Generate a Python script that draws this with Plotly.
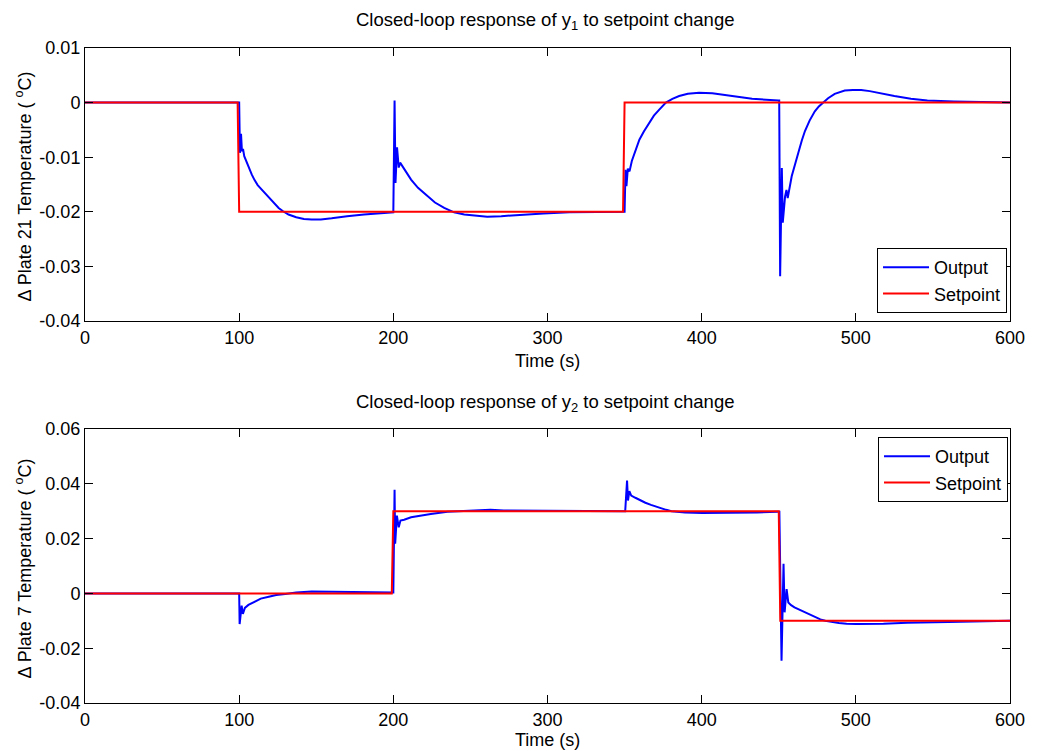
import plotly.graph_objects as go

# ---- y1 loop (Plate 21) ----
t_out1 = [0, 100, 100.5, 101.2, 101.8, 102.5, 103.3, 104.1, 106, 108.2, 110, 112, 114.5, 117, 120,
          123, 125.6, 128.5, 132, 137, 142, 147, 153, 160, 170, 181, 190, 198.4, 200,
          200.8, 201.4, 202.4, 203.5, 204.4, 207.5, 211.5, 216, 222.2, 227, 233, 239.4, 246,
          254.4, 260.9, 270, 280.2, 297.4, 314.3, 330, 350,
          350.6, 351.2, 352.1, 353.2, 354.7, 357, 359.6, 362.5, 366, 369, 372.5, 376.8, 381,
          385.4, 391, 398.3, 406.9, 419.8, 432.7, 449.8, 450.3,
          450.9, 452, 452.6, 454.1, 455, 455.8, 458.4, 460.5, 462.7, 465, 467, 470, 473.4, 476,
          478.8, 482, 486.3, 492.8, 498, 503.5, 509, 514.2, 525, 535.7, 546.4, 563.6, 580, 600]
y_out1 = [0, 0, -0.0092, -0.0057, -0.0089, -0.0085, -0.0098, -0.0104, -0.0119, -0.0132, -0.0142,
          -0.0151, -0.0159, -0.0167, -0.0177, -0.0186, -0.0193, -0.0199, -0.0205, -0.0210,
          -0.0213, -0.0214, -0.0214, -0.0212, -0.0208, -0.0205, -0.0203, -0.0201, -0.0201,
          0.0004, -0.0147, -0.0082, -0.0119, -0.0110, -0.0124, -0.0141, -0.0156, -0.0172,
          -0.0183, -0.0193, -0.0201, -0.0205, -0.0208, -0.0209, -0.0208, -0.0206, -0.0203,
          -0.0201, -0.0200, -0.0200,
          -0.0123, -0.0153, -0.0121, -0.0126, -0.0107, -0.0088, -0.0068, -0.0053, -0.0037,
          -0.0024, -0.0013, 0.0, 0.0007, 0.0012, 0.0016, 0.0018, 0.0017, 0.0012, 0.0007, 0.0004,
          0.0004,
          -0.0318, -0.0120, -0.0220, -0.0172, -0.0160, -0.0175, -0.0135, -0.0112, -0.0092,
          -0.0069, -0.0052, -0.0033, -0.0016, -0.0007, 0.0, 0.0008, 0.0016, 0.0022, 0.0023,
          0.0023, 0.0021, 0.0018, 0.0012, 0.0007, 0.0004, 0.0002, 0.0001, 0.0]
t_sp1 = [0, 99, 100, 349, 350, 600]
y_sp1 = [0, 0, -0.02, -0.02, 0, 0]

# ---- y2 loop (Plate 7) ----
t_out2 = [0, 100, 100.3, 101.6, 102.4, 103.7, 106, 110.6, 114, 119.2, 124, 129.9, 137, 147, 157.8,
          187.9, 200,
          200.8, 201.2, 202.3, 203.5, 204.6, 207, 211.5, 217, 224.3, 235.1, 245.9, 263, 271.6,
          290, 311.6, 350.4,
          351.6, 352.2, 353.1, 354.3, 357, 360.4, 363.5, 367.1, 370, 373.7, 377, 380.4, 384,
          389.2, 400.3, 418, 435.8, 449.2, 450.4,
          451.8, 453.1, 453.8, 455.1, 456.2, 458, 460.2, 463.5, 466.9, 470, 473.5, 477, 480.2,
          484, 489, 494, 500.1, 517.9, 533.3, 560, 580, 600]
y_out2 = [0, 0, -0.0112, -0.0045, -0.0075, -0.0053, -0.0042, -0.0027, -0.0019, -0.0012, -0.0006,
          -0.0002, 0.0003, 0.0007, 0.0006, 0.0004, 0.0003,
          0.0378, 0.0181, 0.0284, 0.0241, 0.0266, 0.0269, 0.0278, 0.0284, 0.0290, 0.0298,
          0.0301, 0.0305, 0.0303, 0.0302, 0.0300, 0.0300,
          0.0412, 0.0339, 0.0373, 0.0357, 0.0349, 0.0339, 0.0331, 0.0323, 0.0317, 0.0311,
          0.0305, 0.0300, 0.0297, 0.0295, 0.0293, 0.0293, 0.0295, 0.0298, 0.0298,
          -0.0246, 0.0108, -0.0069, 0.0016, -0.0033, -0.0043, -0.0051, -0.0060, -0.0069,
          -0.0078, -0.0088, -0.0095, -0.0100, -0.0104, -0.0108, -0.0111, -0.0112, -0.0111,
          -0.0107, -0.0104, -0.0101, -0.0100]
t_sp2 = [0, 199, 200, 450, 451, 600]
y_sp2 = [0, 0, 0.03, 0.03, -0.01, -0.01]

x_ticks = [0, 100, 200, 300, 400, 500, 600]
y_ticks1 = [-0.04, -0.03, -0.02, -0.01, 0, 0.01]
y_ticks2 = [-0.04, -0.02, 0, 0.02, 0.04, 0.06]

titles = ["Closed-loop response of y<sub>1</sub> to setpoint change",
          "Closed-loop response of y<sub>2</sub> to setpoint change"]
ylabels = ["\u0394 Plate 21 Temperature ( <sup>o</sup>C)",
           "\u0394 Plate 7 Temperature ( <sup>o</sup>C)"]
xlabel = "Time (s)"


def tick_text(vals):
    return [("%g" % v) for v in vals]


FONT = "Liberation Sans, Arial, Helvetica, sans-serif"
BLUE = "#0000FF"
RED = "#FF0000"
FS = 18

fig = go.Figure()
fig.add_trace(go.Scatter(x=t_out1, y=y_out1, mode="lines", name="Output",
                         line=dict(color=BLUE, width=2), xaxis="x", yaxis="y", legend="legend"))
fig.add_trace(go.Scatter(x=t_sp1, y=y_sp1, mode="lines", name="Setpoint",
                         line=dict(color=RED, width=2), xaxis="x", yaxis="y", legend="legend"))
fig.add_trace(go.Scatter(x=t_out2, y=y_out2, mode="lines", name="Output",
                         line=dict(color=BLUE, width=2), xaxis="x2", yaxis="y2", legend="legend2"))
fig.add_trace(go.Scatter(x=t_sp2, y=y_sp2, mode="lines", name="Setpoint",
                         line=dict(color=RED, width=2), xaxis="x2", yaxis="y2", legend="legend2"))

W, H = 1037, 751
L, R, T, B = 85, 21, 48, 48
plot_h = H - T - B
top_dom = [(H - B - 321) / plot_h, 1.0]
bot_dom = [0.0, (H - B - 429) / plot_h]

axis_common = dict(showline=True, linecolor="black", linewidth=1, mirror="ticks",
                   ticks="inside", ticklen=8, tickwidth=1, tickcolor="black",
                   showgrid=False, zeroline=False,
                   tickfont=dict(family=FONT, size=FS, color="black"))

fig.update_layout(
    width=W, height=H,
    margin=dict(l=L, r=R, t=T, b=B),
    paper_bgcolor="white", plot_bgcolor="white",
    font=dict(family=FONT, size=FS, color="black"),
    xaxis=dict(domain=[0, 1], range=[0, 600], tickvals=x_ticks, ticktext=tick_text(x_ticks),
               anchor="y", **axis_common),
    yaxis=dict(domain=top_dom, range=[-0.04, 0.01], tickvals=y_ticks1,
               ticktext=tick_text(y_ticks1), anchor="x", **axis_common),
    xaxis2=dict(domain=[0, 1], range=[0, 600], tickvals=x_ticks, ticktext=tick_text(x_ticks),
                anchor="y2", **axis_common),
    yaxis2=dict(domain=bot_dom, range=[-0.04, 0.06], tickvals=y_ticks2,
                ticktext=tick_text(y_ticks2), anchor="x2", **axis_common),
    legend=dict(x=(1013 - L) / (W - L - R), y=(H - B - 313) / plot_h,
                xanchor="right", yanchor="bottom", itemwidth=46,
                bordercolor="black", borderwidth=1, bgcolor="white",
                font=dict(family=FONT, size=FS, color="black"), tracegroupgap=0),
    legend2=dict(x=(1014 - L) / (W - L - R), y=(H - B - 437) / plot_h,
                 xanchor="right", yanchor="top", itemwidth=46,
                 bordercolor="black", borderwidth=1, bgcolor="white",
                 font=dict(family=FONT, size=FS, color="black"), tracegroupgap=0),
    showlegend=True,
)


def py(pix):
    # pixel row -> paper coordinate
    return (H - B - pix) / plot_h


def px(pix):
    return (pix - L) / (W - L - R)


anns = []
for title, yc in zip(titles, [21, 403]):
    anns.append(dict(text=title, x=px(548), y=py(yc), xref="paper", yref="paper",
                     xanchor="center", yanchor="middle", showarrow=False,
                     font=dict(family=FONT, size=18.5, color="black")))
for yc in [361, 740]:
    anns.append(dict(text=xlabel, x=px(550), y=py(yc), xref="paper", yref="paper",
                     xanchor="center", yanchor="middle", showarrow=False,
                     font=dict(family=FONT, size=FS, color="black")))
for lab, yc in zip(ylabels, [186, 568]):
    anns.append(dict(text=lab, x=px(23), y=py(yc), xref="paper", yref="paper",
                     xanchor="center", yanchor="middle", showarrow=False, textangle=-90,
                     font=dict(family=FONT, size=FS, color="black")))
fig.update_layout(annotations=anns)

fig.write_html("out.html")
